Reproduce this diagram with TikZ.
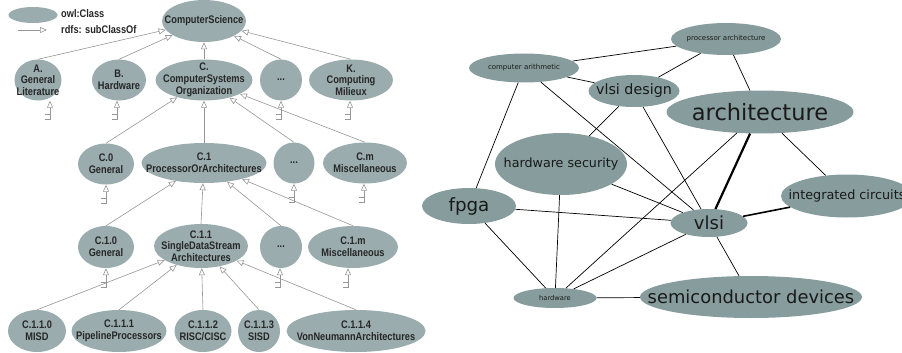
\documentclass[tikz,border=0pt]{standalone}
\usepackage{fontspec}
\usetikzlibrary{shapes.geometric,arrows.meta}
\newfontfamily\condfont[FakeStretch=0.84]{Liberation Sans}
\newfontfamily\tagfont{DejaVu Sans}
\definecolor{clsgray}{RGB}{154,172,174}
\definecolor{taggray}{RGB}{135,157,157}
\definecolor{linegray}{RGB}{150,150,150}
\tikzset{
  cls/.style={ellipse, fill=clsgray, inner sep=0pt},
  clstext/.style={inner sep=0pt, align=center, text=black!85,
    font=\condfont\bfseries\fontsize{11}{11.7}\selectfont},
  legtext/.style={clstext, anchor=west},
  subof/.style={draw=linegray, line width=0.6pt,
    -{Triangle[length=7pt,width=6pt,fill=white]}},
  stubline/.style={draw=linegray, line width=0.6pt},
  tag/.style={ellipse, fill=taggray, inner sep=0pt},
  tagtext/.style={inner sep=0pt, text=black!90,
    font=\tagfont\fontsize{#1}{#1}\selectfont},
  rel/.style={draw=black, line width=0.7pt},
}
\begin{document}
\begin{tikzpicture}[x=1pt,y=-1pt]
  \useasboundingbox (0,0) rectangle (902,353);
  \clip (0,0) rectangle (902,353);

  % legend
  \node[cls, minimum width=49pt, minimum height=16pt] (legcls) at (33,15) {};
  \node[legtext] (legclstxt) at (61,14) {owl:Class};
  \coordinate (legfrom) at (18,30);
  \coordinate (legto) at (47,30);
  \draw[subof] (legfrom) -- (legto);
  \node[legtext] (legsubtxt) at (61,30) {rdfs: subClassOf};

  % ACM classification tree
  \node[cls, minimum width=84pt, minimum height=42pt, label={[clstext]center:ComputerScience}] (cs) at (204,21) {};

  \node[cls, minimum width=47pt, minimum height=41pt, label={[clstext]center:{A.\\General\\Literature}}] (a) at (38,80) {};
  \node[cls, minimum width=54pt, minimum height=41pt, label={[clstext]center:{B.\\Hardware}}] (b) at (119,80) {};
  \node[cls, minimum width=97pt, minimum height=41pt, label={[clstext]center:{C.\\ComputerSystems\\Organization}}] (c) at (204,80) {};
  \node[cls, minimum width=42pt, minimum height=41pt, label={[clstext]center:...}] (dotsa) at (281,80) {};
  \node[cls, minimum width=84pt, minimum height=41pt, label={[clstext]center:{K.\\Computing\\Milieux}}] (k) at (351,80) {};

  \node[cls, minimum width=56pt, minimum height=41pt, label={[clstext]center:{C.0\\General}}] (c0) at (106,164) {};
  \node[cls, minimum width=125pt, minimum height=40pt, label={[clstext]center:{C.1\\ProcessorOrArchitectures}}] (c1) at (204,163) {};
  \node[cls, minimum width=41pt, minimum height=41pt, label={[clstext]center:...}] (dotsb) at (294,163) {};
  \node[cls, minimum width=84pt, minimum height=41pt, label={[clstext]center:{C.m\\Miscellaneous}}] (cm) at (365,163) {};

  \node[cls, minimum width=56pt, minimum height=42pt, label={[clstext]center:{C.1.0\\General}}] (c10) at (106,247) {};
  \node[cls, minimum width=94pt, minimum height=44pt, label={[clstext]center:{C.1.1\\SingleDataStream\\Architectures}}] (c11) at (201,246) {};
  \node[cls, minimum width=42pt, minimum height=42pt, label={[clstext]center:...}] (dotsc) at (281,247) {};
  \node[cls, minimum width=90pt, minimum height=42pt, label={[clstext]center:{C.1.m\\Miscellaneous}}] (c1m) at (353,247) {};

  \node[cls, minimum width=58pt, minimum height=42pt, label={[clstext]center:{C.1.1.0\\MISD}}] (c110) at (37,331) {};
  \node[cls, minimum width=95pt, minimum height=42pt, label={[clstext]center:{C.1.1.1\\PipelineProcessors}}] (c111) at (119,331) {};
  \node[cls, minimum width=57pt, minimum height=42pt, label={[clstext]center:{C.1.1.2\\RISC/CISC}}] (c112) at (203,331) {};
  \node[cls, minimum width=42pt, minimum height=42pt, label={[clstext]center:{C.1.1.3\\SISD}}] (c113) at (259,331) {};
  \node[cls, minimum width=139pt, minimum height=42pt, label={[clstext]center:{C.1.1.4\\VonNeumannArchitectures}}] (c114) at (356,331) {};

  \foreach \n in {a,b,c,dotsa,k} \draw[subof] (\n.north) -- (cs);
  \foreach \n in {c0,c1,dotsb,cm} \draw[subof] (\n.north) -- (c);
  \foreach \n in {c10,c11,dotsc,c1m} \draw[subof] (\n.north) -- (c1);
  \foreach \n in {c110,c111,c112,c113,c114} \draw[subof] (\n.north) -- (c11);

  % subclasses not shown
  \foreach \n/\dx in {a/12,b/-2,dotsa/0,k/-1,c0/0,dotsb/0,cm/-1,c10/0,dotsc/-1,c1m/-5} {
    \coordinate (\n-stub) at ([xshift=\dx pt,yshift=-9pt]\n.south);
    \draw[subof] (\n-stub) -- ([xshift=\dx pt]\n.south);
    \draw[stubline] (\n-stub) -- ++(0,10) -- ++(-5,0) (\n-stub) ++(0,5) -- ++(-5,0);
  }

  % tag graph
  \node[tag, minimum width=110pt, minimum height=32pt, label={[tagtext=7]center:processor architecture}] (pa) at (726,39) {};
  \node[tag, minimum width=110pt, minimum height=29pt, label={[tagtext=7]center:computer arithmetic}] (ca) at (524,68) {};
  \node[tag, minimum width=91pt, minimum height=32pt, label={[tagtext=14.3]center:vlsi design}] (vd) at (634,91) {};
  \node[tag, minimum width=187pt, minimum height=43pt, label={[tagtext=22.5]center:architecture}] (arch) at (760,112) {};
  \node[tag, minimum width=132pt, minimum height=62pt, label={[tagtext=12.7]center:hardware security}] (hs) at (561,164) {};
  \node[tag, minimum width=94pt, minimum height=36pt, label={[tagtext=18.3]center:fpga}] (fpga) at (469,206) {};
  \node[tag, minimum width=77pt, minimum height=28pt, label={[tagtext=18]center:vlsi}] (vlsi) at (709,223) {};
  \node[tag, minimum width=132pt, minimum height=43pt, label={[tagtext=12.8]center:integrated circuits}] (ic) at (847,196) {};
  \node[tag, minimum width=83pt, minimum height=20pt, label={[tagtext=6.7]center:hardware}] (hw) at (555,298) {};
  \node[tag, minimum width=222pt, minimum height=42pt, label={[tagtext=17.9]center:semiconductor devices}] (sd) at (751,297) {};

  \draw[rel] (ca) -- (pa);
  \draw[rel] (ca) -- (vd);
  \draw[rel] (ca) -- (fpga);
  \draw[rel] (ca) -- (vlsi);
  \draw[rel] (pa) -- (vd);
  \draw[rel] (pa) -- (arch);
  \draw[rel] (vd) -- (hs);
  \draw[rel] (vd) -- (vlsi);
  \draw[rel, line width=2.2pt] (arch) -- (vlsi);
  \draw[rel] (arch) -- (hw);
  \draw[rel] (arch) -- (ic);
  \draw[rel] (hs) -- (vlsi);
  \draw[rel] (hs) -- (hw);
  \draw[rel] (fpga) -- (vlsi);
  \draw[rel] (fpga) -- (hw);
  \draw[rel, line width=1.6pt] (vlsi) -- (ic);
  \draw[rel] (vlsi) -- (hw);
  \draw[rel] (vlsi) -- (sd);
  \draw[rel] (hw) -- (sd);
\end{tikzpicture}
\end{document}
